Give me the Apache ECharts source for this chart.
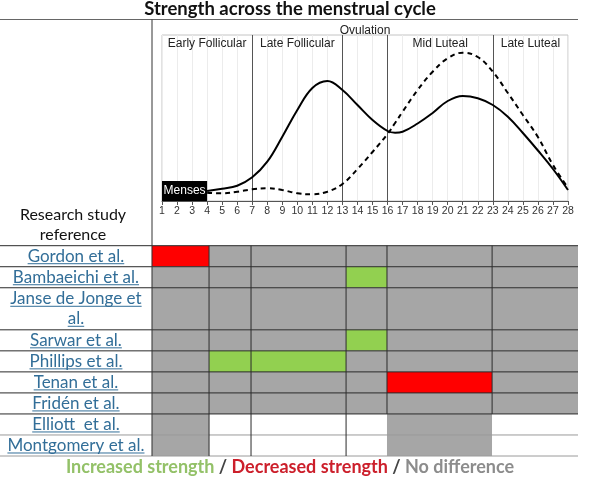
<!DOCTYPE html>
<html><head><meta charset="utf-8">
<script src="https://cdn.jsdelivr.net/npm/echarts@6/dist/echarts.min.js"></script>
<style>html,body{margin:0;padding:0;background:#fff}#c{width:599px;height:483px}</style>
</head><body><div id="c"></div>
<script>
// ---------- data ----------
const days = [4,5,6,7,8,9,10,11,12,13,14,15,16,16.5,17,18,19,20,21,22,23,24,25,26,27,28];
const solidStrength  = [10,12.3,15.3,23.7,39.3,64.3,91,113,120,111,96,81,70,68.3,69.3,77.5,88,100,105,102.7,96,84.3,68,50.5,32,11];
const dashedStrength = [8.3,7.7,9.3,11.7,12.7,11,7.7,6.7,9.3,17,32,49,67,78,89.3,111,129.3,142.7,148.3,144,129.3,108,86,64,36,13];
const phaseNames = ['Early Follicular','Late Follicular','Ovulation','Mid Luteal','Late Luteal'];
const phaseStart = [1,7,13,16,23];
const phaseEnd   = [7,13,16,23,28];
const mensesRange = [1,4];
const studies = ['Gordon et al.','Bambaeichi et al.','Janse de Jonge et al.','Sarwar et al.','Phillips et al.','Tenan et al.','Fridén et al.','Elliott  et al.','Montgomery et al.'];
const studyLines = [['Gordon et al.'],['Bambaeichi et al.'],['Janse de Jonge et','al.'],['Sarwar et al.'],['Phillips et al.'],['Tenan et al.'],['Fridén et al.'],['Elliott  et al.'],['Montgomery et al.']];
const rowSpans = [1,1,2,1,1,1,1,1,1];
// table column edges, in cycle days (label column lies left of the first edge)
const columnEdges = [0.33,4.13,6.92,13.24,15.96,22.95,28.66];
const labelColumnStart = -9.77;
// 1 = increased, -1 = decreased, 0 = no difference, null = not studied
const findings = [
  [-1,0,0,0,0,0],
  [0,0,0,1,0,0],
  [0,0,0,0,0,0],
  [0,0,0,1,0,0],
  [0,1,1,0,0,0],
  [0,0,0,0,-1,0],
  [0,0,0,0,0,0],
  [0,null,null,null,0,null],
  [0,null,null,null,0,null]
];
const legendLabels = ['Increased strength','Decreased strength','No difference'];

// ---------- helpers ----------
const rowStart = []; let acc = 0; rowSpans.forEach(s => { rowStart.push(acc); acc += s; });
const totalRows = acc;
const cellColor = {'1':'#92d050','-1':'#ff0000','0':'#a6a6a6','9':'#ffffff'};
const cellData = [];
findings.forEach((row, r) => row.forEach((v, c) => cellData.push([c, r, v === null ? 9 : v])));

const ruleData = [];
const rowEdges = [0].concat(rowStart.map((s, i) => s + rowSpans[i]));
rowEdges.forEach((e, i) => {
  const above = i > 0 ? findings[i - 1] : null;
  const light = above && above.some(v => v === null);
  ruleData.push([labelColumnStart, e, columnEdges[columnEdges.length - 1], e, light ? 1 : 0]);
});
for (let c = 1; c < columnEdges.length - 1; c++) {
  findings.forEach((row, r) => {
    const open = row[c - 1] === null || row[c] === null;
    if (open && c >= 4) return;
    ruleData.push([columnEdges[c], rowStart[r], columnEdges[c], rowStart[r] + rowSpans[r], 0]);
  });
}

const mctx = document.createElement('canvas').getContext('2d');
function textW(t, font) { mctx.font = font; return mctx.measureText(t).width; }
const labelFont = '17px Lato';
const labelColor = '#326e98';
const legendFont = 'bold 18px Lato';

const chart = echarts.init(document.getElementById('c'));
const axisFont = 'Liberation Sans';

chart.setOption({
  animation: false,
  backgroundColor: '#fff',
  grid: [
    {left: 162, right: 31, top: 35, bottom: 282, show: true, borderColor: '#c4c4c4', borderWidth: 1},
    {left: 0, right: 21, top: 245.7, bottom: 27}
  ],
  xAxis: [
    {type: 'value', gridIndex: 0, min: 1, max: 28, interval: 1,
     axisLine: {lineStyle: {color: '#555'}},
     axisTick: {show: true, length: 4, lineStyle: {color: '#555'}},
     axisLabel: {fontSize: 10.5, color: '#333', fontFamily: axisFont, margin: 5},
     splitLine: {show: true, lineStyle: {color: '#ececec'}}},
    {type: 'value', gridIndex: 1, min: labelColumnStart, max: columnEdges[columnEdges.length - 1], show: false}
  ],
  yAxis: [
    {type: 'value', gridIndex: 0, min: 0, max: 166, show: false},
    {type: 'value', gridIndex: 1, min: 0, max: totalRows, inverse: true, show: false}
  ],
  graphic: [
    {type: 'line', shape: {x1: 0, y1: 19.5, x2: 578, y2: 19.5}, style: {stroke: '#666', lineWidth: 1}, z: 10},
    {type: 'line', shape: {x1: 152, y1: 19.5, x2: 152, y2: 456}, style: {stroke: '#333', lineWidth: 1}, z: 10},
    {type: 'text', x: 290, y: 9, style: {text: 'Strength across the menstrual cycle', font: 'bold 18.5px Lato', fill: '#111', textAlign: 'center', textVerticalAlign: 'middle'}, z: 10},
    {type: 'text', x: 73, y: 225, style: {text: 'Research study\nreference', font: '16px Lato', fill: '#111', textAlign: 'center', textVerticalAlign: 'middle', lineHeight: 20}, z: 10},
    {type: 'text', x: 290, y: 467, z: 10, style: {
      text: '{g|' + legendLabels[0] + '}{s| / }{r|' + legendLabels[1] + '}{s| / }{n|' + legendLabels[2] + '}',
      textAlign: 'center', textVerticalAlign: 'middle', font: legendFont,
      rich: {
        g: {fill: '#93c168', font: legendFont},
        r: {fill: '#cc1f2b', font: legendFont},
        n: {fill: '#8c8c8c', font: legendFont},
        s: {fill: '#444', font: legendFont}
      }}}
  ],
  series: [
    {type: 'line', xAxisIndex: 0, yAxisIndex: 0, name: 'solid', z: 5,
     data: days.map((d, i) => [d, solidStrength[i]]), symbol: 'none', smooth: 0.4,
     lineStyle: {color: '#000', width: 2},
     markLine: {silent: true, symbol: 'none', label: {show: false},
       lineStyle: {color: '#555', width: 1, type: 'solid'},
       data: phaseStart.slice(1).map(d => ({xAxis: d}))},
     markArea: {silent: true, itemStyle: {color: '#000'},
       label: {show: true, position: 'inside', color: '#fff', fontSize: 12, fontFamily: axisFont},
       data: [[{name: 'Menses', xAxis: mensesRange[0], yAxis: 0}, {xAxis: mensesRange[1], yAxis: 20}]]}
    },
    {type: 'line', xAxisIndex: 0, yAxisIndex: 0, name: 'dashed', z: 5,
     data: days.map((d, i) => [d, dashedStrength[i]]), symbol: 'none', smooth: 0.4,
     lineStyle: {color: '#000', width: 2, type: [5, 4]},
     markArea: {silent: true, itemStyle: {color: 'rgba(0,0,0,0)'},
       label: {show: true, position: 'insideTop', distance: 3, color: '#222', fontSize: 12, fontFamily: axisFont},
       data: phaseNames.map((n, i) => [
         {name: n, xAxis: phaseStart[i], label: n === 'Ovulation' ? {position: 'top', distance: -2} : undefined},
         {xAxis: phaseEnd[i]}])}
    },
    {type: 'custom', xAxisIndex: 1, yAxisIndex: 1, z: 2, silent: true,
     data: cellData,
     renderItem: (params, api) => {
       const c = api.value(0), r = api.value(1), code = api.value(2);
       const p0 = api.coord([columnEdges[c], rowStart[r]]);
       const p1 = api.coord([columnEdges[c + 1], rowStart[r] + rowSpans[r]]);
       return {type: 'rect', shape: {x: p0[0], y: p0[1], width: p1[0] - p0[0], height: p1[1] - p0[1]},
         style: {fill: cellColor[String(code)]}};
     }},
    {type: 'custom', xAxisIndex: 1, yAxisIndex: 1, z: 3, silent: true,
     data: ruleData,
     renderItem: (params, api) => {
       const p0 = api.coord([api.value(0), api.value(1)]);
       const p1 = api.coord([api.value(2), api.value(3)]);
       return {type: 'line', shape: {x1: p0[0], y1: p0[1], x2: p1[0], y2: p1[1]},
         style: {stroke: api.value(4) ? '#9a9a9a' : '#2a2a2a', lineWidth: 1}};
     }},
    {type: 'custom', xAxisIndex: 1, yAxisIndex: 1, z: 4, silent: true,
     data: studies.map((s, r) => [ (labelColumnStart + columnEdges[0]) / 2, rowStart[r] + rowSpans[r] / 2 ]),
     renderItem: (params, api) => {
       const r = params.dataIndex;
       const p = api.coord([api.value(0), api.value(1)]);
       const lines = studyLines[r];
       const lh = 20;
       const children = [];
       lines.forEach((t, k) => {
         const cy = p[1] + (k - (lines.length - 1) / 2) * lh;
         const w = textW(t, labelFont);
         children.push({type: 'text', style: {text: t, x: p[0], y: cy, font: labelFont, fill: labelColor, textAlign: 'center', textVerticalAlign: 'middle'}});
         children.push({type: 'line', shape: {x1: p[0] - w / 2, y1: cy + 7.5, x2: p[0] + w / 2, y2: cy + 7.5}, style: {stroke: labelColor, lineWidth: 1}});
       });
       return {type: 'group', children};
     }}
  ]
});
</script></body></html>
